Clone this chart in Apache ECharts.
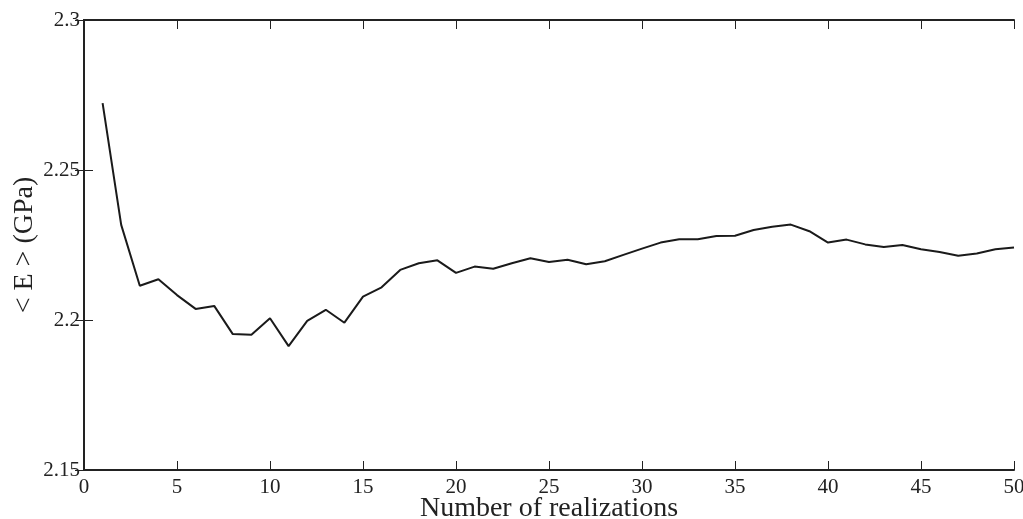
<!DOCTYPE html>
<html>
<head>
<meta charset="utf-8">
<script src="https://cdn.jsdelivr.net/npm/echarts@6/dist/echarts.min.js"></script>
<style>
  html, body { margin: 0; padding: 0; background: #fff; }
  #chart { width: 1023px; height: 519px; }
</style>
</head>
<body>
<div id="chart"></div>
<script>
// Mean Young's modulus versus number of realizations
const realizations = [
  1, 2, 3, 4, 5, 6, 7, 8, 9, 10,
  11, 12, 13, 14, 15, 16, 17, 18, 19, 20,
  21, 22, 23, 24, 25, 26, 27, 28, 29, 30,
  31, 32, 33, 34, 35, 36, 37, 38, 39, 40,
  41, 42, 43, 44, 45, 46, 47, 48, 49, 50
];
const meanE = [
  2.2723, 2.2317, 2.2114, 2.2136, 2.2083, 2.2037, 2.2047, 2.1953, 2.1951, 2.2006,
  2.1913, 2.1997, 2.2034, 2.1991, 2.2078, 2.2109, 2.2167, 2.2189, 2.2199, 2.2157,
  2.2178, 2.2171, 2.2189, 2.2206, 2.2193, 2.2201, 2.2186, 2.2196, 2.2217, 2.2238,
  2.2258, 2.2269, 2.2269, 2.2280, 2.2281, 2.2300, 2.2311, 2.2318, 2.2296, 2.2258,
  2.2268, 2.2252, 2.2243, 2.2250, 2.2236, 2.2227, 2.2214, 2.2222, 2.2236, 2.2242
];
const yTickLabels = { 2.15: '2.15', 2.2: '2.2', 2.25: '2.25', 2.3: '2.3' };

const serif = '"Liberation Serif", "DejaVu Serif", serif';
const axisLine = { show: true, lineStyle: { color: '#222', width: 2 } };
const inTick = { show: true, inside: true, length: 9, lineStyle: { color: '#222', width: 1 } };

const chart = echarts.init(document.getElementById('chart'), null, { renderer: 'canvas' });
chart.setOption({
  animation: false,
  backgroundColor: '#fff',
  grid: { left: 84, right: 9, top: 20, bottom: 49, containLabel: false, outerBoundsMode: 'none' },
  xAxis: [
    {
      type: 'value', position: 'bottom', min: 0, max: 50, interval: 5,
      name: 'Number of realizations', nameLocation: 'middle', nameGap: 25,
      nameMoveOverlap: false,
      nameTextStyle: { fontFamily: serif, fontSize: 28, color: '#222' },
      axisLine: axisLine, axisTick: inTick,
      axisLabel: { fontFamily: serif, fontSize: 21, color: '#222', margin: 7 },
      splitLine: { show: false }
    },
    {
      type: 'value', position: 'top', min: 0, max: 50, interval: 5,
      axisLine: axisLine, axisTick: inTick, axisLabel: { show: false },
      splitLine: { show: false }
    }
  ],
  yAxis: [
    {
      type: 'value', position: 'left', min: 2.15, max: 2.3, interval: 0.05,
      name: '< E > (GPa)', nameLocation: 'middle', nameGap: 45, nameRotate: 90,
      nameMoveOverlap: false,
      nameTextStyle: { fontFamily: serif, fontSize: 28, color: '#222' },
      axisLine: axisLine, axisTick: inTick,
      axisLabel: {
        fontFamily: serif, fontSize: 21, color: '#222', margin: 4,
        formatter: v => yTickLabels[Math.round(v * 100) / 100] || ''
      },
      splitLine: { show: false }
    },
    {
      type: 'value', position: 'right', min: 2.15, max: 2.3, interval: 0.05,
      axisLine: axisLine, axisTick: inTick, axisLabel: { show: false },
      splitLine: { show: false }
    }
  ],
  series: [
    {
      type: 'line',
      data: realizations.map((n, i) => [n, meanE[i]]),
      xAxisIndex: 0, yAxisIndex: 0,
      showSymbol: false, symbol: 'none',
      lineStyle: { color: '#1a1a1a', width: 2 }
    }
  ]
});
</script>
</body>
</html>
